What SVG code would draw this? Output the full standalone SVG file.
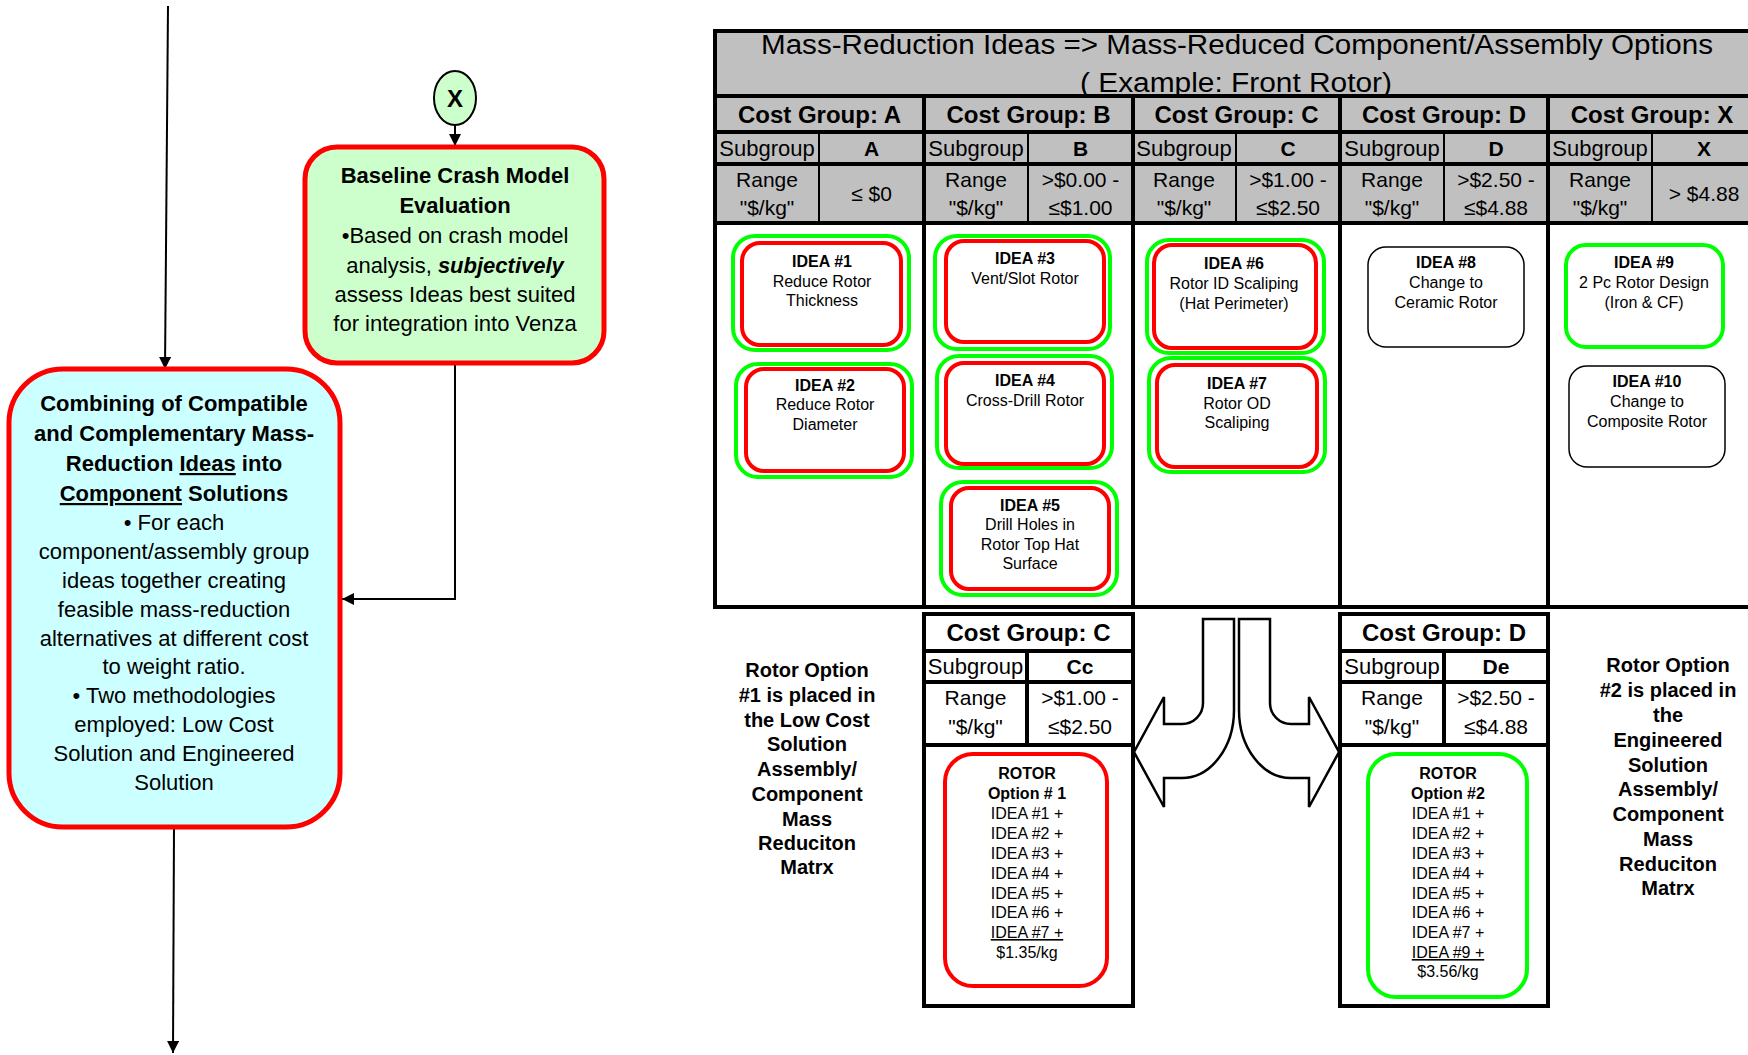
<svg xmlns="http://www.w3.org/2000/svg" width="1748" height="1055" viewBox="0 0 1748 1055">
  <defs>
    <marker id="arrow" viewBox="0 0 10 10" refX="10" refY="5" markerWidth="15" markerHeight="12" markerUnits="userSpaceOnUse" orient="auto">
      <path d="M0,0 L10,5 L0,10 z" fill="#000"/>
    </marker>
    <style>
      text { font-family: "Liberation Sans", Arial, sans-serif; fill: #000; }
      .flow { font-size: 22px; text-anchor: middle; }
      .b { font-weight: bold; }
      .u { text-decoration: underline; }
      .conn { fill: none; stroke: #000; stroke-width: 2; }
      .grid { stroke: #000; stroke-width: 4; fill: none; }
      .thin { stroke: #000; stroke-width: 2; fill: none; }
      .hd { font-size: 24px; font-weight: bold; text-anchor: middle; }
      .sg { font-size: 22px; text-anchor: middle; }
      .sgv { font-size: 21px; font-weight: bold; text-anchor: middle; }
      .rg { font-size: 21px; text-anchor: middle; }
      .idea { font-size: 16px; text-anchor: middle; }
      .side { font-size: 20px; font-weight: bold; text-anchor: middle; }
      .gr { fill: #fff; stroke: #00ff00; stroke-width: 4; }
      .rd { fill: #fff; stroke: #ff0000; stroke-width: 4; }
      .rdx { fill: none; stroke: #ff0000; stroke-width: 4; }
      .bk { fill: #fff; stroke: #000; stroke-width: 1.5; }
      .split { fill: #fff; stroke: #000; stroke-width: 2.5; stroke-linejoin: miter; }
    </style>
  </defs>

  <rect width="1748" height="1055" fill="#fff"/>

  <!-- connectors -->
  <g id="connectors">
    <path class="conn" d="M168,6 L165,369" marker-end="url(#arrow)"/>
    <path class="conn" d="M455,125 L455,146" marker-end="url(#arrow)"/>
    <path class="conn" d="M455,363 L455,599 L342,599" marker-end="url(#arrow)"/>
    <path class="conn" d="M174,827 L173,1053" marker-end="url(#arrow)"/>
  </g>

  <!-- off-page connector X -->
  <g id="node-x">
    <ellipse cx="455" cy="98" rx="21" ry="27" fill="#ccffcc" stroke="#000" stroke-width="2"/>
    <text x="455" y="107" font-size="24" font-weight="bold" text-anchor="middle">X</text>
  </g>

  <!-- baseline crash model evaluation -->
  <g id="node-baseline">
    <rect x="305" y="147" width="299" height="216" rx="32" fill="#ccffcc" stroke="#ff0000" stroke-width="5"/>
    <text class="flow b" x="455" y="183">Baseline Crash Model</text>
    <text class="flow b" x="455" y="213">Evaluation</text>
    <text class="flow" x="455" y="243">•Based on crash model</text>
    <text class="flow" x="455" y="273">analysis, <tspan font-weight="bold" font-style="italic">subjectively</tspan></text>
    <text class="flow" x="455" y="302">assess Ideas best suited</text>
    <text class="flow" x="455" y="331">for integration into Venza</text>
  </g>

  <!-- combining ideas into component solutions -->
  <g id="node-combining">
    <rect x="9" y="369" width="331" height="458" rx="54" fill="#ccffff" stroke="#ff0000" stroke-width="5"/>
    <text class="flow b" x="174" y="411">Combining of Compatible</text>
    <text class="flow b" x="174" y="441">and Complementary Mass-</text>
    <text class="flow b" x="174" y="471">Reduction <tspan class="u">Ideas</tspan> into</text>
    <text class="flow b" x="174" y="501"><tspan class="u">Component</tspan> Solutions</text>
    <text class="flow" x="174" y="530">• For each</text>
    <text class="flow" x="174" y="559">component/assembly group</text>
    <text class="flow" x="174" y="588">ideas together creating</text>
    <text class="flow" x="174" y="617">feasible mass-reduction</text>
    <text class="flow" x="174" y="646">alternatives at different cost</text>
    <text class="flow" x="174" y="674">to weight ratio.</text>
    <text class="flow" x="174" y="703">• Two methodologies</text>
    <text class="flow" x="174" y="732">employed: Low Cost</text>
    <text class="flow" x="174" y="761">Solution and Engineered</text>
    <text class="flow" x="174" y="790">Solution</text>
  </g>

  <!-- mass-reduction matrix table -->
  <g id="matrix">
    <rect x="715" y="31" width="1045" height="192" fill="#c0c0c0"/>
    <rect x="715" y="223" width="1045" height="384" fill="#fff"/>
    <text x="1237" y="54" font-size="27" text-anchor="middle" textLength="952" lengthAdjust="spacingAndGlyphs">Mass-Reduction Ideas =&gt; Mass-Reduced Component/Assembly Options</text>
    <text x="1236" y="92" font-size="27" text-anchor="middle" textLength="312" lengthAdjust="spacingAndGlyphs">( Example: Front Rotor)</text>

    <!-- cost group headers -->
    <text class="hd" x="819.5" y="123">Cost Group: A</text>
    <text class="hd" x="1028.5" y="123">Cost Group: B</text>
    <text class="hd" x="1236.5" y="123">Cost Group: C</text>
    <text class="hd" x="1444" y="123">Cost Group: D</text>
    <text class="hd" x="1652" y="123">Cost Group: X</text>

    <!-- subgroup row -->
    <text class="sg" x="767" y="156">Subgroup</text>
    <text class="sg" x="976" y="156">Subgroup</text>
    <text class="sg" x="1184" y="156">Subgroup</text>
    <text class="sg" x="1392" y="156">Subgroup</text>
    <text class="sg" x="1600" y="156">Subgroup</text>
    <text class="sgv" x="871.5" y="156">A</text>
    <text class="sgv" x="1080.5" y="156">B</text>
    <text class="sgv" x="1288" y="156">C</text>
    <text class="sgv" x="1496" y="156">D</text>
    <text class="sgv" x="1704" y="156">X</text>

    <!-- range row -->
    <text class="rg" x="767" y="187">Range</text>
    <text class="rg" x="767" y="215">"$/kg"</text>
    <text class="rg" x="976" y="187">Range</text>
    <text class="rg" x="976" y="215">"$/kg"</text>
    <text class="rg" x="1184" y="187">Range</text>
    <text class="rg" x="1184" y="215">"$/kg"</text>
    <text class="rg" x="1392" y="187">Range</text>
    <text class="rg" x="1392" y="215">"$/kg"</text>
    <text class="rg" x="1600" y="187">Range</text>
    <text class="rg" x="1600" y="215">"$/kg"</text>
    <text class="rg" x="871.5" y="201">≤ $0</text>
    <text class="rg" x="1080.5" y="187">&gt;$0.00 -</text>
    <text class="rg" x="1080.5" y="215">≤$1.00</text>
    <text class="rg" x="1288" y="187">&gt;$1.00 -</text>
    <text class="rg" x="1288" y="215">≤$2.50</text>
    <text class="rg" x="1496" y="187">&gt;$2.50 -</text>
    <text class="rg" x="1496" y="215">≤$4.88</text>
    <text class="rg" x="1704" y="201">&gt; $4.88</text>

    <!-- grid lines -->
    <path class="grid" d="M713,31 H1760 M715,96 H1760 M715,132 H1760 M715,164 H1760 M715,223 H1760 M713,607 H1760"/>
    <path class="grid" d="M715,29 V609 M924,96 V607 M1133,96 V607 M1340,96 V607 M1548,96 V607"/>
    <path class="thin" d="M819,132 V223 M1028,132 V223 M1236,132 V223 M1444,132 V223 M1652,132 V223"/>
  </g>

  <!-- idea cards -->
  <g id="idea-1">
    <rect class="gr" x="733" y="236" width="176" height="114" rx="22"/>
    <rect class="rd" x="742" y="243" width="159" height="102" rx="18"/>
    <text class="idea b" x="822" y="267">IDEA #1</text>
    <text class="idea" x="822" y="287">Reduce Rotor</text>
    <text class="idea" x="822" y="306">Thickness</text>
  </g>
  <g id="idea-2">
    <rect class="gr" x="736" y="364" width="176" height="113" rx="22"/>
    <rect class="rd" x="746" y="369" width="158" height="102" rx="18"/>
    <text class="idea b" x="825" y="391">IDEA #2</text>
    <text class="idea" x="825" y="410">Reduce Rotor</text>
    <text class="idea" x="825" y="430">Diameter</text>
  </g>
  <g id="idea-3">
    <rect class="gr" x="935" y="236" width="175" height="113" rx="22"/>
    <rect class="rd" x="946" y="241" width="158" height="101" rx="18"/>
    <text class="idea b" x="1025" y="264">IDEA #3</text>
    <text class="idea" x="1025" y="284">Vent/Slot Rotor</text>
  </g>
  <g id="idea-4">
    <rect class="gr" x="937" y="356" width="175" height="112" rx="22"/>
    <rect class="rd" x="946" y="363" width="158" height="101" rx="18"/>
    <text class="idea b" x="1025" y="386">IDEA #4</text>
    <text class="idea" x="1025" y="406">Cross-Drill Rotor</text>
  </g>
  <g id="idea-5">
    <rect class="gr" x="941" y="482" width="176" height="113" rx="22"/>
    <rect class="rd" x="951" y="488" width="158" height="101" rx="18"/>
    <text class="idea b" x="1030" y="511">IDEA #5</text>
    <text class="idea" x="1030" y="530">Drill Holes in</text>
    <text class="idea" x="1030" y="550">Rotor Top Hat</text>
    <text class="idea" x="1030" y="569">Surface</text>
  </g>
  <g id="idea-6">
    <rect class="gr" x="1147" y="240" width="177" height="113" rx="22"/>
    <rect class="rd" x="1154" y="245" width="162" height="103" rx="18"/>
    <text class="idea b" x="1234" y="269">IDEA #6</text>
    <text class="idea" x="1234" y="289">Rotor ID Scaliping</text>
    <text class="idea" x="1234" y="309">(Hat Perimeter)</text>
  </g>
  <g id="idea-7">
    <rect class="gr" x="1149" y="358" width="176" height="114" rx="22"/>
    <rect class="rd" x="1157" y="365" width="160" height="102" rx="18"/>
    <text class="idea b" x="1237" y="389">IDEA #7</text>
    <text class="idea" x="1237" y="409">Rotor OD</text>
    <text class="idea" x="1237" y="428">Scaliping</text>
  </g>
  <g id="idea-8">
    <rect class="bk" x="1368" y="247" width="156" height="100" rx="18"/>
    <text class="idea b" x="1446" y="268">IDEA #8</text>
    <text class="idea" x="1446" y="288">Change to</text>
    <text class="idea" x="1446" y="308">Ceramic Rotor</text>
  </g>
  <g id="idea-9">
    <rect class="gr" x="1566" y="245" width="157" height="102" rx="20"/>
    <text class="idea b" x="1644" y="268">IDEA #9</text>
    <text class="idea" x="1644" y="288">2 Pc Rotor Design</text>
    <text class="idea" x="1644" y="308">(Iron &amp; CF)</text>
  </g>
  <g id="idea-10">
    <rect class="bk" x="1569" y="366" width="156" height="101" rx="18"/>
    <text class="idea b" x="1647" y="387">IDEA #10</text>
    <text class="idea" x="1647" y="407">Change to</text>
    <text class="idea" x="1647" y="427">Composite Rotor</text>
  </g>

  <!-- low cost solution: cost group C -->
  <g id="option-1">
    <rect x="924" y="614" width="209" height="392" fill="#fff"/>
    <text class="hd" x="1028.5" y="641">Cost Group: C</text>
    <text class="sg" x="975.5" y="674">Subgroup</text>
    <text class="sgv" x="1080" y="674">Cc</text>
    <text class="rg" x="975.5" y="705">Range</text>
    <text class="rg" x="975.5" y="734">"$/kg"</text>
    <text class="rg" x="1080" y="705">&gt;$1.00 -</text>
    <text class="rg" x="1080" y="734">≤$2.50</text>
    <path class="grid" d="M924,614 H1133 V1006 H924 Z M924,651 H1133 M924,682 H1133 M924,745 H1133 M1027,651 V745"/>
    <rect class="rdx" x="945" y="754" width="162" height="232" rx="28"/>
    <text class="idea b" x="1027" y="779">ROTOR</text>
    <text class="idea b" x="1027" y="799">Option # 1</text>
    <text class="idea" x="1027" y="819">IDEA #1 +</text>
    <text class="idea" x="1027" y="839">IDEA #2 +</text>
    <text class="idea" x="1027" y="859">IDEA #3 +</text>
    <text class="idea" x="1027" y="879">IDEA #4 +</text>
    <text class="idea" x="1027" y="899">IDEA #5 +</text>
    <text class="idea" x="1027" y="918">IDEA #6 +</text>
    <text class="idea u" x="1027" y="938">IDEA #7 +</text>
    <text class="idea" x="1027" y="958">$1.35/kg</text>
  </g>

  <!-- engineered solution: cost group D -->
  <g id="option-2">
    <rect x="1340" y="614" width="208" height="392" fill="#fff"/>
    <text class="hd" x="1444" y="641">Cost Group: D</text>
    <text class="sg" x="1392" y="674">Subgroup</text>
    <text class="sgv" x="1496" y="674">De</text>
    <text class="rg" x="1392" y="705">Range</text>
    <text class="rg" x="1392" y="734">"$/kg"</text>
    <text class="rg" x="1496" y="705">&gt;$2.50 -</text>
    <text class="rg" x="1496" y="734">≤$4.88</text>
    <path class="grid" d="M1340,614 H1548 V1006 H1340 Z M1340,651 H1548 M1340,682 H1548 M1340,745 H1548 M1444,651 V745"/>
    <rect class="gr" x="1368" y="754" width="159" height="243" rx="28" fill="none"/>
    <text class="idea b" x="1448" y="779">ROTOR</text>
    <text class="idea b" x="1448" y="799">Option #2</text>
    <text class="idea" x="1448" y="819">IDEA #1 +</text>
    <text class="idea" x="1448" y="839">IDEA #2 +</text>
    <text class="idea" x="1448" y="859">IDEA #3 +</text>
    <text class="idea" x="1448" y="879">IDEA #4 +</text>
    <text class="idea" x="1448" y="899">IDEA #5 +</text>
    <text class="idea" x="1448" y="918">IDEA #6 +</text>
    <text class="idea" x="1448" y="938">IDEA #7 +</text>
    <text class="idea u" x="1448" y="958">IDEA #9 +</text>
    <text class="idea" x="1448" y="977">$3.56/kg</text>
  </g>

  <!-- split arrow between the two options -->
  <g id="split-arrow">
    <path class="split" d="M1234,619 L1203,619 L1203,703 A21,21 0 0 1 1182,724 L1164,724 L1164,697 L1134,752 L1164,807 L1164,778 L1182,778 A52,68 0 0 0 1234,710 Z"/>
    <path class="split" transform="translate(2473,0) scale(-1,1)" d="M1234,619 L1203,619 L1203,703 A21,21 0 0 1 1182,724 L1164,724 L1164,697 L1134,752 L1164,807 L1164,778 L1182,778 A52,68 0 0 0 1234,710 Z"/>
  </g>

  <!-- side notes -->
  <g id="note-option-1">
    <text class="side" x="807" y="677">Rotor Option</text>
    <text class="side" x="807" y="702">#1 is placed in</text>
    <text class="side" x="807" y="727">the Low Cost</text>
    <text class="side" x="807" y="751">Solution</text>
    <text class="side" x="807" y="776">Assembly/</text>
    <text class="side" x="807" y="801">Component</text>
    <text class="side" x="807" y="826">Mass</text>
    <text class="side" x="807" y="850">Reduciton</text>
    <text class="side" x="807" y="874">Matrx</text>
  </g>
  <g id="note-option-2">
    <text class="side" x="1668" y="672">Rotor Option</text>
    <text class="side" x="1668" y="697">#2 is placed in</text>
    <text class="side" x="1668" y="722">the</text>
    <text class="side" x="1668" y="747">Engineered</text>
    <text class="side" x="1668" y="772">Solution</text>
    <text class="side" x="1668" y="796">Assembly/</text>
    <text class="side" x="1668" y="821">Component</text>
    <text class="side" x="1668" y="846">Mass</text>
    <text class="side" x="1668" y="871">Reduciton</text>
    <text class="side" x="1668" y="895">Matrx</text>
  </g>
</svg>
